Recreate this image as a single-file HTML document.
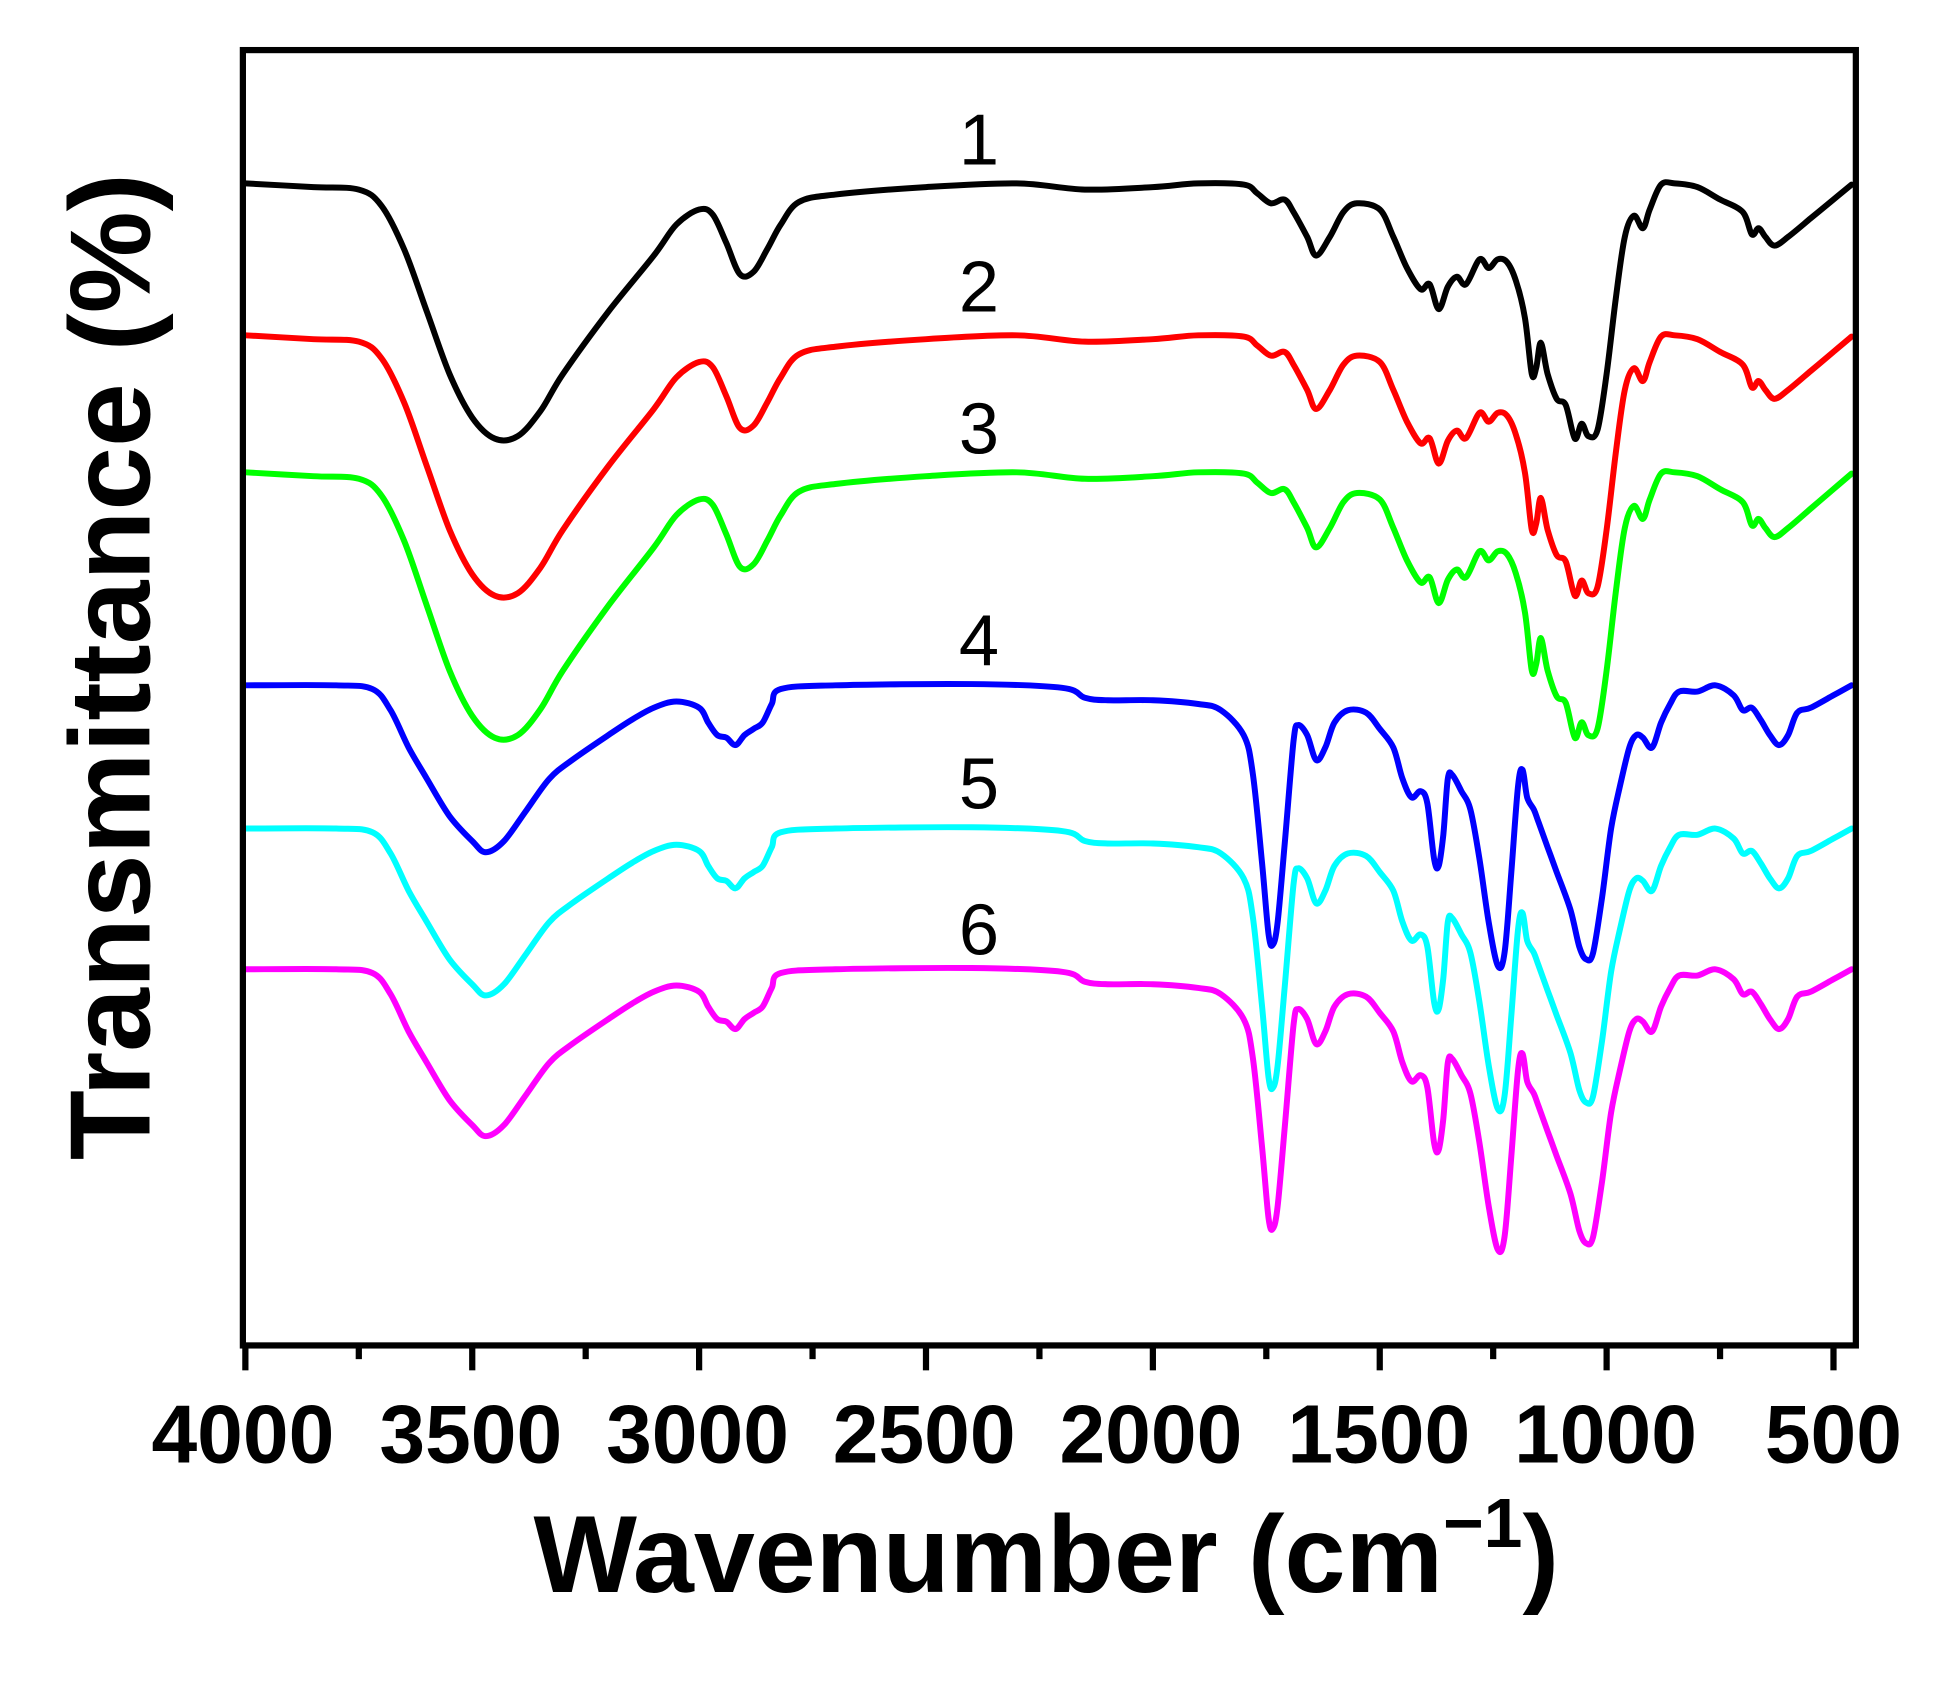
<!DOCTYPE html>
<html><head><meta charset="utf-8"><style>
html,body{margin:0;padding:0;background:#fff;}
svg{display:block;}
</style></head><body>
<svg id="s" width="1953" height="1682" viewBox="0 0 1568 1350" xmlns="http://www.w3.org/2000/svg" font-family="Liberation Sans, Arial, sans-serif">
<rect width="1568" height="1350" fill="#fff"/>
<g id="curves" fill="none" stroke-width="4.8" stroke-linejoin="round" stroke-linecap="round"></g>
<rect x="195" y="40" width="1295" height="1040" fill="none" stroke="#000" stroke-width="5"/>
<g id="ticks" stroke="#000" stroke-width="5"></g>
<g font-weight="bold" font-size="66" text-anchor="middle" fill="#000">
<text x="195" y="1174">4000</text><text x="378" y="1174">3500</text><text x="560" y="1174">3000</text>
<text x="742" y="1174">2500</text><text x="924" y="1174">2000</text><text x="1107" y="1174">1500</text>
<text x="1289" y="1174">1000</text><text x="1472" y="1174">500</text>
</g>
<text x="840" y="1278" font-weight="bold" font-size="88" text-anchor="middle">Wavenumber (cm<tspan font-size="56" dy="-36">−1</tspan><tspan dy="36">)</tspan></text>
<text transform="translate(120,535) rotate(-90)" font-weight="bold" font-size="92" text-anchor="middle">Transmittance (%)</text>
<g font-size="58" text-anchor="middle" fill="#000">
<text x="786" y="132">1</text><text x="786" y="250">2</text><text x="786" y="364">3</text>
<text x="786" y="534">4</text><text x="786" y="649">5</text><text x="786" y="766">6</text>
</g>
</svg>
<script>
var X=function(w){return 197+(4000-w)*0.3643;};
var A=[[4000,147],[3850,150],[3750,152],[3700,165],[3650,200],[3600,250],[3550,300],[3500,335],[3450,352],[3400,350],[3350,330],[3300,300],[3200,250],[3100,205],[3050,180],[3000,168],[2970,172],[2940,195],[2910,220],[2880,218],[2850,200],[2820,180],[2780,162],[2700,156],[2500,150],[2300,147],[2150,152],[2000,150],[1900,147],[1800,148],[1770,155],[1740,163],[1710,160],[1690,170],[1660,190],[1640,205],[1610,190],[1580,170],[1550,163],[1500,168],[1470,190],[1440,215],[1410,232],[1390,228],[1370,248],[1350,230],[1330,222],[1310,228],[1280,208],[1260,215],[1240,208],[1220,210],[1200,225],[1180,255],[1165,300],[1155,295],[1145,275],[1130,300],[1110,320],[1090,325],[1070,352],[1055,340],[1040,350],[1020,345],[1000,300],[980,240],[960,190],[940,173],[920,183],[905,168],[880,148],[850,147],[800,150],[750,160],[700,170],[680,188],[665,183],[650,190],[630,197],[600,190],[550,175],[500,160],[460,148]];
var B=[[4000,550],[3800,550],[3720,553],[3680,570],[3640,600],[3600,625],[3550,655],[3500,675],[3470,684],[3430,675],[3380,650],[3330,625],[3280,610],[3200,590],[3150,578],[3100,568],[3050,563],[3000,568],[2980,580],[2960,590],[2940,592],[2920,598],[2900,590],[2880,585],[2860,580],[2840,565],[2820,553],[2700,550],[2400,549],[2200,552],[2150,560],[2100,562],[2000,562],[1900,565],[1850,570],[1800,590],[1780,620],[1760,690],[1745,750],[1735,758],[1725,740],[1710,680],[1690,595],[1680,582],[1660,590],[1640,610],[1620,600],[1600,580],[1570,570],[1530,572],[1500,585],[1470,600],[1450,625],[1430,640],[1410,635],[1395,645],[1380,690],[1370,695],[1360,670],[1350,625],[1340,622],[1320,635],[1300,650],[1280,690],[1260,740],[1240,775],[1225,765],[1210,700],[1195,630],[1185,618],[1175,640],[1160,650],[1150,660],[1130,680],[1110,700],[1080,730],[1060,760],[1045,770],[1030,765],[1010,720],[990,665],[970,630],[950,600],[935,590],[920,592],[900,600],[880,580],[860,565],[840,555],[800,555],[760,550],[720,558],[700,570],[680,568],[660,578],[640,590],[620,598],[600,590],[580,572],[550,568],[500,558],[460,550]];
function mk(P,base,scale,off,col){
 var pts=P.map(function(p){return [X(p[0]),off+base+(p[1]-base)*scale];});
 var d="M"+pts[0][0].toFixed(1)+","+pts[0][1].toFixed(1);
 for(var i=0;i<pts.length-1;i++){
  var p0=pts[i-1]||pts[i],p1=pts[i],p2=pts[i+1],p3=pts[i+2]||p2;
  var c1=[p1[0]+(p2[0]-p0[0])/6,p1[1]+(p2[1]-p0[1])/6],c2=[p2[0]-(p3[0]-p1[0])/6,p2[1]-(p3[1]-p1[1])/6];
  d+=" C"+c1[0].toFixed(1)+","+c1[1].toFixed(1)+" "+c2[0].toFixed(1)+","+c2[1].toFixed(1)+" "+p2[0].toFixed(1)+","+p2[1].toFixed(1);
 }
 var e=document.createElementNS("http://www.w3.org/2000/svg","path");
 e.setAttribute("d",d);e.setAttribute("stroke",col);
 document.getElementById("curves").appendChild(e);
}
mk(A,147,1,0,"#000");
mk(A,147,1.02,122,"#f00");
mk(A,147,1.04,232,"#0f0");
mk(B,550,1,0,"#00f");
mk(B,550,1.0,115,"#0ff");
mk(B,550,1.0,228,"#f0f");
var t=document.getElementById("ticks");
for(var w=4000;w>=500;w-=250){
 var x=X(w),L=(w%500==0)?20:11;
 var l=document.createElementNS("http://www.w3.org/2000/svg","line");
 l.setAttribute("x1",x);l.setAttribute("x2",x);l.setAttribute("y1",1080);l.setAttribute("y2",1080+L);
 t.appendChild(l);
}
</script>
</body></html>
